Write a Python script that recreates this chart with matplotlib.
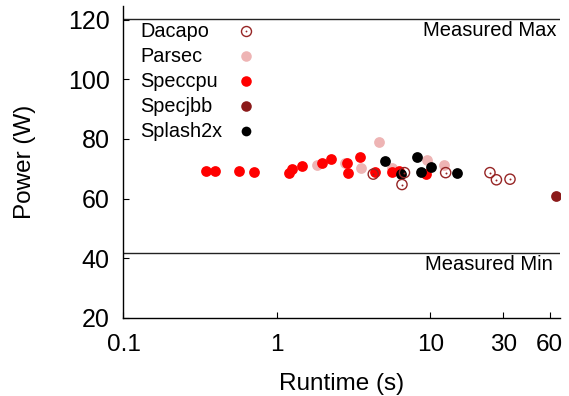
import matplotlib
matplotlib.use("Agg")
import matplotlib.pyplot as plt
import matplotlib.transforms as mtransforms

plt.rcParams['font.family'] = ['Liberation Sans', 'DejaVu Sans']

# ---- data ----
dacapo_rt = [4.25, 6.79, 6.54, 12.6, 24.5, 27.0, 33.1]
dacapo_pw = [68.2, 68.7, 64.7, 68.7, 68.7, 66.3, 66.5]

parsec_rt = [1.82, 2.78, 3.52, 4.65, 5.60, 9.47, 12.3]
parsec_pw = [71.1, 71.9, 70.4, 79.0, 70.2, 73.0, 71.3]

speccpu_rt = [0.344, 0.394, 0.568, 0.708, 1.20, 1.25, 1.45, 1.96, 2.27,
              2.87, 2.92, 3.46, 4.36, 5.60, 6.28, 9.37]
speccpu_pw = [69.4, 69.4, 69.1, 69.0, 68.5, 69.9, 70.9, 72.1, 73.2,
              71.9, 68.7, 74.1, 68.8, 68.8, 69.1, 68.2]

specjbb_rt = [66.1]
specjbb_pw = [60.7]

splash_rt = [5.07, 6.44, 8.23, 8.70, 10.1, 14.9]
splash_pw = [72.7, 68.2, 74.1, 68.9, 70.6, 68.6]

measured_max = 120.4
measured_min = 41.7

xticks = [0.1, 1, 10, 30, 60]
xticklabels = ['0.1', '1', '10', '30', '60']
yticks = [20, 40, 60, 80, 100, 120]

legend_labels = ['Dacapo', 'Parsec', 'Speccpu', 'Specjbb', 'Splash2x']

# ---- styles ----
c_dacapo = '#962525'
c_parsec = '#EEB4B4'
c_speccpu = '#FF0000'
c_specjbb = '#8B1A1A'
c_splash = '#000000'
ms = 60

fig = plt.figure(figsize=(5.69, 3.96), dpi=100)
ax = fig.add_axes([0.217, 0.198, 0.767, 0.787])

ax.scatter(parsec_rt, parsec_pw, s=ms, color=c_parsec, linewidths=0, zorder=3)
ax.scatter(speccpu_rt, speccpu_pw, s=ms, color=c_speccpu, linewidths=0, zorder=4)
ax.scatter(specjbb_rt, specjbb_pw, s=ms, color=c_specjbb, linewidths=0, zorder=4)
ax.scatter(splash_rt, splash_pw, s=ms, color=c_splash, linewidths=0, zorder=5)
ax.scatter(dacapo_rt, dacapo_pw, s=ms * 0.9, facecolors='none', edgecolors=c_dacapo,
           linewidths=1.0, zorder=6)
ax.scatter(dacapo_rt, dacapo_pw, s=2, color=c_dacapo, linewidths=0, zorder=6)

ax.axhline(measured_max, color='#222222', lw=1.0, zorder=2)
ax.axhline(measured_min, color='#222222', lw=1.0, zorder=2)

trans = mtransforms.blended_transform_factory(ax.transAxes, ax.transData)
ax.annotate('Measured Max', xy=(1.0, measured_max), xycoords=trans,
            xytext=(-2.5, -1.5), textcoords='offset points', ha='right', va='top',
            fontsize=14.5)
ax.annotate('Measured Min', xy=(1.0, measured_min), xycoords=trans,
            xytext=(-5.5, -1.5), textcoords='offset points', ha='right', va='top',
            fontsize=14.5)

ax.set_xscale('log')
ax.set_xlim(0.1, 70)
ax.set_ylim(20, 124.7)
ax.set_xticks(xticks)
ax.set_xticklabels(xticklabels)
ax.xaxis.set_minor_locator(matplotlib.ticker.NullLocator())
ax.set_yticks(yticks)

for s in ['top', 'right']:
    ax.spines[s].set_visible(False)
for s in ['left', 'bottom']:
    ax.spines[s].set_linewidth(1.0)

ax.tick_params(axis='both', direction='in', length=4, width=0.8, labelsize=17.5)
ax.tick_params(axis='y', labelsize=18)
ax.tick_params(axis='x', pad=11.5)
ax.tick_params(axis='y', pad=10)

ax.set_xlabel('Runtime (s)', fontsize=17.5, labelpad=12.5)
ax.set_ylabel('Power (W)', fontsize=17.5, labelpad=23)

# ---- legend (text left, marker right) ----
leg_text_x = 0.0417
leg_mark_x = 0.2818
leg_top = 0.9208
leg_step = 0.0805
leg_base_off = 0.0202
leg_styles = [
    dict(marker='o', markersize=7.2, markerfacecolor='none',
         markeredgecolor=c_dacapo, markeredgewidth=1.0),
    dict(marker='o', markersize=7.6, color=c_parsec, markeredgewidth=0),
    dict(marker='o', markersize=7.6, color=c_speccpu, markeredgewidth=0),
    dict(marker='o', markersize=7.6, color=c_specjbb, markeredgewidth=0),
    dict(marker='o', markersize=7.0, color=c_splash, markeredgewidth=0),
]
for i, (lab, sty) in enumerate(zip(legend_labels, leg_styles)):
    yy = leg_top - i * leg_step
    ax.text(leg_text_x - 0.003, yy - leg_base_off, lab, transform=ax.transAxes,
            ha='left', va='baseline', fontsize=14.3)
    ax.plot([leg_mark_x], [yy], transform=ax.transAxes, ls='none',
            clip_on=False, **sty)
    if i == 0:
        ax.plot([leg_mark_x], [yy], transform=ax.transAxes, ls='none',
                clip_on=False, marker='o', markersize=1.3, color=c_dacapo,
                markeredgewidth=0)

fig.savefig('out.png', dpi=100)
